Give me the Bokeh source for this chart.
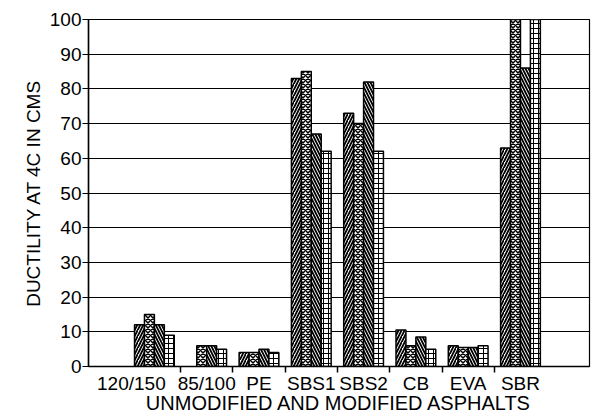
import numpy as np
from bokeh.plotting import figure
from bokeh.models import Range1d, FixedTicker, ColumnDataSource
from bokeh.transform import dodge
from bokeh.embed import file_html
from bokeh.resources import INLINE

# ---- data ----
categories = ["120/150", "85/100", "PE", "SBS1", "SBS2", "CB", "EVA", "SBR"]
series_1 = [12, np.nan, 4, 83, 73, 10.5, 6, 63]
series_2 = [15, 6, 4, 85, 70, 6, 5.5, 100]
series_3 = [12, 6, 5, 67, 82, 8.5, 5.5, 86]
series_4 = [9, 5, 4, 62, 62, 5, 6, 100]
y_ticks = list(range(0, 101, 10))

FONT = "Liberation Sans"
x_pos = list(range(1, len(categories) + 1))
src = ColumnDataSource(dict(x=x_pos, s1=series_1, s2=series_2, s3=series_3, s4=series_4))

p = figure(width=595, height=416, output_backend="svg", toolbar_location=None,
           x_range=Range1d(-0.26, 9.32), y_range=Range1d(0, 100))
p.min_border_left = 88
p.min_border_right = 6
p.min_border_top = 19
p.min_border_bottom = 10
p.background_fill_color = "white"
p.border_fill_color = "white"
p.outline_line_color = "black"
p.outline_line_width = 1.2

bw = 0.19
styles = [("s1", -1.5, "/", 6, 1.8),
          ("s2", -0.5, "x", 5, 1.5),
          ("s3", 0.5, "\\", 6, 1.8),
          ("s4", 1.5, "+", 5, 1.0)]
for col, k, pat, sc, wt in styles:
    p.vbar(x=dodge("x", k * bw, range=p.x_range), top=col, bottom=0, width=bw, source=src,
           fill_color="white", line_color="black", line_width=1.5,
           hatch_pattern=pat, hatch_color="black", hatch_scale=sc, hatch_weight=wt)

# y axis
p.yaxis.ticker = FixedTicker(ticks=y_ticks)
p.yaxis.axis_line_color = "black"
p.yaxis.axis_line_width = 1.5
p.yaxis.major_tick_out = 6
p.yaxis.major_tick_in = 0
p.yaxis.major_tick_line_width = 1.2
p.yaxis.minor_tick_line_color = None
p.yaxis.major_label_text_font = FONT
p.yaxis.major_label_text_font_size = "19px"
p.yaxis.major_label_text_color = "black"
p.yaxis.major_label_standoff = 1
p.yaxis.axis_label = "DUCTILITY AT 4C IN CMS"
p.yaxis.axis_label_text_font = FONT
p.yaxis.axis_label_text_font_size = "19px"
p.yaxis.axis_label_text_font_style = "normal"
p.yaxis.axis_label_text_color = "black"
p.yaxis.axis_label_standoff = 3

p.ygrid.ticker = FixedTicker(ticks=y_ticks)
p.ygrid.grid_line_color = "black"
p.ygrid.grid_line_width = 1.2
p.xgrid.visible = False

# x axis: labels at category centres, tick marks at group boundaries
label_pos = [float(v) for v in x_pos]
label_pos[0] = label_pos[0] - 0.44  # long first label sits left of its group
boundaries = [v + 0.5 for v in x_pos[:-1]]
p.xaxis.ticker = FixedTicker(ticks=label_pos, minor_ticks=boundaries)
p.xaxis.major_label_overrides = {v: c for v, c in zip(label_pos, categories)}
p.xaxis.major_tick_out = 0
p.xaxis.major_tick_in = 0
p.xaxis.minor_tick_out = 6
p.xaxis.minor_tick_in = 0
p.xaxis.minor_tick_line_color = "black"
p.xaxis.minor_tick_line_width = 1.5
p.xaxis.axis_line_color = "black"
p.xaxis.axis_line_width = 1.5
p.xaxis.major_label_text_font = FONT
p.xaxis.major_label_text_font_size = "19px"
p.xaxis.major_label_text_color = "black"
p.xaxis.major_label_standoff = 0
p.xaxis.axis_label = "UNMODIFIED AND MODIFIED ASPHALTS"
p.xaxis.axis_label_text_font = FONT
p.xaxis.axis_label_text_font_size = "20px"
p.xaxis.axis_label_text_font_style = "normal"
p.xaxis.axis_label_text_color = "black"
p.xaxis.axis_label_standoff = -5

open("out.html", "w").write(file_html(p, INLINE))
